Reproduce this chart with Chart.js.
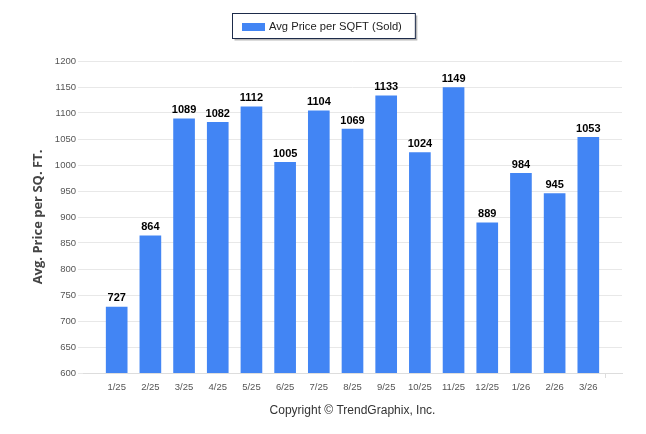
<!DOCTYPE html>
<html>
<head>
<meta charset="utf-8">
<script src="https://cdn.jsdelivr.net/npm/chart.js@4"></script>
<style>
  body { margin: 0; background: #fff; }
  #wrap { width: 646px; height: 434px; }
</style>
</head>
<body>
<div id="wrap"><canvas id="priceChart" width="646" height="434"></canvas></div>
<script>
// chart data
const months = ['1/25', '2/25', '3/25', '4/25', '5/25', '6/25', '7/25', '8/25', '9/25', '10/25', '11/25', '12/25', '1/26', '2/26', '3/26'];
const avgPrice = [727, 864, 1089, 1082, 1112, 1005, 1104, 1069, 1133, 1024, 1149, 889, 984, 945, 1053];
const yTicks = { min: 600, max: 1200, step: 50 };

const FONT = '"Liberation Sans", Arial, sans-serif';

// value labels on top of bars
const barValues = {
  id: 'barValues',
  afterDatasetsDraw(chart) {
    const ctx = chart.ctx;
    const meta = chart.getDatasetMeta(0);
    ctx.save();
    ctx.font = 'bold 11px ' + FONT;
    ctx.fillStyle = '#000';
    ctx.textAlign = 'center';
    ctx.textBaseline = 'bottom';
    meta.data.forEach((bar, i) => {
      ctx.fillText(avgPrice[i], bar.x, bar.y - 3);
    });
    ctx.restore();
  }
};

// framed legend at the top, centred on the canvas
const framedLegend = {
  id: 'framedLegend',
  afterDraw(chart) {
    const ds = chart.data.datasets[0];
    const ctx = chart.ctx;
    ctx.save();
    ctx.font = '11.2px ' + FONT;
    const textW = ctx.measureText(ds.label).width;
    const w = 10 + 23 + 4 + textW + 13;
    const x = Math.round(chart.width / 2 - w / 2) + 0.5, y = 13.5, h = 25;
    ctx.fillStyle = '#b8b8b8';
    ctx.fillRect(x + 2, y + 2, w, h);
    ctx.fillStyle = '#fff';
    ctx.fillRect(x, y, w, h);
    ctx.strokeStyle = '#1d2b4a';
    ctx.lineWidth = 1;
    ctx.strokeRect(x, y, w, h);
    ctx.fillStyle = ds.backgroundColor;
    ctx.fillRect(x + 9.5, 23, 23, 8);
    ctx.fillStyle = '#222';
    ctx.textBaseline = 'middle';
    ctx.fillText(ds.label, x + 36.5, 27);
    ctx.restore();
  }
};

const ctx = document.getElementById('priceChart').getContext('2d');
new Chart(ctx, {
  type: 'bar',
  data: {
    datasets: [{
      label: 'Avg Price per SQFT (Sold)',
      data: avgPrice.map((v, i) => ({ x: i, y: v })),
      backgroundColor: '#4285f4',
      barThickness: 21
    }]
  },
  options: {
    responsive: false,
    animation: false,
    layout: { padding: { top: 61, right: 24, left: 0, bottom: 0 } },
    plugins: {
      legend: { display: false },
      tooltip: { enabled: false }
    },
    scales: {
      x: {
        type: 'linear',
        offset: false,
        min: -1,
        max: months.length,
        afterFit(scale) { scale.height = 61; },
        afterBuildTicks(scale) {
          scale.ticks = [];
          for (let i = -1; i <= months.length; i++) scale.ticks.push({ value: i });
        },
        ticks: {
          autoSkip: false,
          maxRotation: 0,
          padding: 4,
          color: '#555',
          font: { family: FONT, size: 9.5 },
          callback: v => months[v] || ''
        },
        grid: {
          drawOnChartArea: false,
          tickLength: 5,
          color: c => (c.tick && (c.tick.value === -1 || c.tick.value === months.length)) ? '#ddd' : 'rgba(0,0,0,0)'
        },
        border: { display: true, color: '#ddd' },
        title: {
          display: true,
          text: 'Copyright © TrendGraphix, Inc.',
          color: '#333',
          font: { family: FONT, size: 12 },
          padding: { top: 4, bottom: 16 }
        }
      },
      y: {
        min: yTicks.min,
        max: yTicks.max,
        afterFit(scale) { scale.width = 83; },
        ticks: {
          stepSize: yTicks.step,
          padding: 2,
          color: '#555',
          font: { family: FONT, size: 9.5 },
          callback: v => String(v)
        },
        grid: { color: '#e8e8e8', tickLength: 5 },
        border: { display: false },
        title: {
          display: true,
          text: 'Avg. Price per SQ. FT.',
          color: '#444',
          font: { family: '"Open Sans", sans-serif', size: 13, weight: 'bold' },
          padding: { top: 30, bottom: 0 }
        }
      }
    }
  },
  plugins: [framedLegend, barValues]
});
</script>
</body>
</html>
